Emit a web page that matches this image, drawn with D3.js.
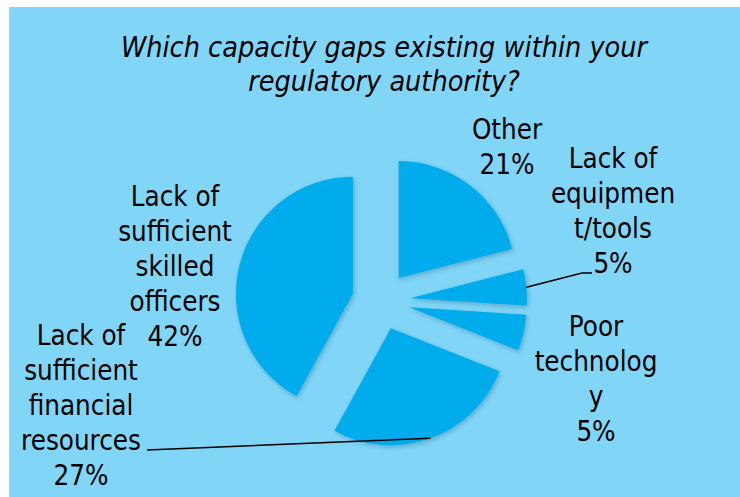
<!DOCTYPE html>
<html><head><meta charset="utf-8">
<script src="https://cdn.jsdelivr.net/npm/d3@7"></script>
<style>
html,body{margin:0;padding:0;background:#fff;}
svg{display:block;}
text{font-family:'DejaVu Sans Condensed','DejaVu Sans',sans-serif;font-stretch:condensed;fill:#000;}
</style></head>
<body>
<script>
const categories = ["Other", "Lack of equipment/tools", "Poor technology", "Lack of sufficient financial resources", "Lack of sufficient skilled officers"];
const values = [21, 5, 5, 27, 42];
const labelLines = [
  ["Other", "21%"],
  ["Lack of", "equipmen", "t/tools", "5%"],
  ["Poor", "technolog", "y", "5%"],
  ["Lack of", "sufficient", "financial", "resources", "27%"],
  ["Lack of", "sufficient", "skilled", "officers", "42%"]
];
const titleLines = ["Which capacity gaps existing within your", "regulatory authority?"];

const W = 740, H = 497;
const svg = d3.select("body").append("svg").attr("width", W).attr("height", H);

const defs = svg.append("defs");
const f = defs.append("filter").attr("id","sh").attr("x","-20%").attr("y","-20%").attr("width","140%").attr("height","140%");
f.append("feDropShadow").attr("dx",1.5).attr("dy",2).attr("stdDeviation",2).attr("flood-color","#1a5f80").attr("flood-opacity",0.35);

svg.append("rect").attr("x",9).attr("y",7).attr("width",W-9).attr("height",H-7).attr("fill","#81d5f7");

const cx = 381, cy = 301, R = 117, explode = 29;
const pie = d3.pie().sort(null).value(d => d)(values);
const arc = d3.arc().innerRadius(0).outerRadius(R);

const g = svg.append("g").attr("transform", `translate(${cx},${cy})`);
function off(d, r){ const a=(d.startAngle+d.endAngle)/2; return [r*Math.sin(a), -r*Math.cos(a)]; }
g.selectAll("path.slice").data(pie).join("path")
  .attr("class","slice")
  .attr("transform", d => { const o = off(d, explode); return `translate(${o[0]},${o[1]})`; })
  .attr("d", arc)
  .attr("fill", "#00acec")
  .attr("filter","url(#sh)");

// leader lines (equipment & financial)
function outerPt(i){ const d = pie[i]; const o = off(d, explode); const p = off(d, R); return [cx+o[0]+p[0], cy+o[1]+p[1]]; }
const e = outerPt(1);
svg.append("polyline").attr("points", `${e[0]},${e[1]} 582,273 592,273`).attr("fill","none").attr("stroke","#000").attr("stroke-width",1.5);
const fi = outerPt(3);
svg.append("polyline").attr("points", `${fi[0]},${fi[1]} 147,450`).attr("fill","none").attr("stroke","#000").attr("stroke-width",1.5);

// labels
const labelPos = [ [507,139], [613,168], [596,336], [81,345], [175,206] ];
const lh = 35;
labelLines.forEach((lines, i) => {
  const t = svg.append("text").attr("text-anchor","middle").attr("font-size",27.5);
  lines.forEach((s, j) => {
    t.append("tspan").attr("x", labelPos[i][0]).attr("y", labelPos[i][1] + j*lh).text(s);
  });
});
// title
const tt = svg.append("text").attr("text-anchor","middle").attr("font-size",28.5).attr("font-style","italic");
titleLines.forEach((s,j)=> tt.append("tspan").attr("x",384).attr("y",57+j*34).text(s));
</script>
</body></html>
